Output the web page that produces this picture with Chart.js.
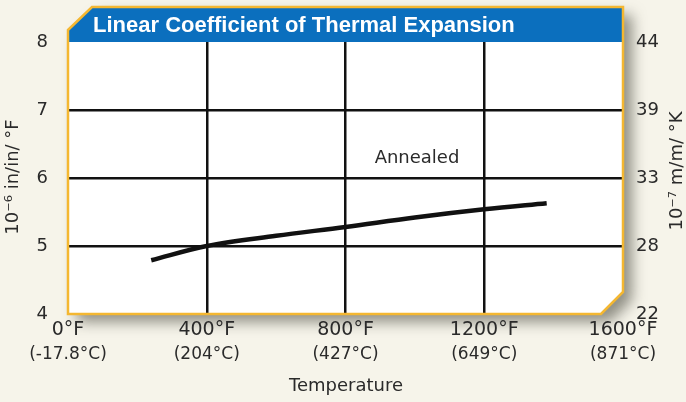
<!DOCTYPE html>
<html>
<head>
<meta charset="utf-8">
<script src="https://cdn.jsdelivr.net/npm/chart.js@4/dist/chart.umd.min.js"></script>
<style>
  html, body { margin: 0; padding: 0; background: #f6f4ea; }
  #wrap { width: 686px; height: 402px; }
</style>
</head>
<body>
<div id="wrap"><canvas id="chart" width="686" height="402"></canvas></div>
<script>
// values
const tempF = [240, 400, 600, 800, 1000, 1200, 1380];
const annealed = [4.79, 5.0, 5.15, 5.28, 5.42, 5.54, 5.63];
const fLabels = ['0°F', '400°F', '800°F', '1200°F', '1600°F'];
const cLabels = ['(-17.8°C)', '(204°C)', '(427°C)', '(649°C)', '(871°C)'];
const kLabels = ['22', '28', '33', '39', '44'];

const FONT = "'DejaVu Sans', Verdana, sans-serif";
const TITLE_FONT = "'Liberation Sans', Arial, sans-serif";
const TEXT = '#2a2a2a';

function boxPath(ctx, a, top) {
    ctx.beginPath();
    ctx.moveTo(a.left, top + 23);
    ctx.lineTo(a.left + 24, top);
    ctx.lineTo(a.right, top);
    ctx.lineTo(a.right, a.bottom - 22);
    ctx.lineTo(a.right - 22, a.bottom);
    ctx.lineTo(a.left, a.bottom);
    ctx.closePath();
}

const frame = {
    id: 'frame',
    beforeDraw(chart) {
        const { ctx, chartArea: a } = chart;
        ctx.save();
        ctx.fillStyle = '#f6f4ea';
        ctx.fillRect(0, 0, chart.width, chart.height);
        // drop shadow
        ctx.shadowColor = 'rgba(60,60,50,0.55)';
        ctx.shadowBlur = 14;
        ctx.shadowOffsetX = 9;
        ctx.shadowOffsetY = 8;
        boxPath(ctx, a, 7);
        ctx.fillStyle = '#ffffff';
        ctx.fill();
        ctx.shadowColor = 'transparent';
        // blue banner
        ctx.save();
        boxPath(ctx, a, 7);
        ctx.clip();
        ctx.fillStyle = '#0b6fbe';
        ctx.fillRect(a.left, 7, a.right - a.left, a.top - 7);
        ctx.restore();
        ctx.restore();
    },
    afterDraw(chart) {
        const { ctx, chartArea: a } = chart;
        ctx.save();
        boxPath(ctx, a, 7);
        ctx.strokeStyle = '#f4b731';
        ctx.lineWidth = 2.5;
        ctx.stroke();

        ctx.fillStyle = '#ffffff';
        ctx.font = 'bold 22px ' + TITLE_FONT;
        ctx.textAlign = 'left';
        ctx.textBaseline = 'middle';
        ctx.fillText('Linear Coefficient of Thermal Expansion', 93, 26);

        ctx.fillStyle = TEXT;
        ctx.font = '18px ' + FONT;
        ctx.textAlign = 'center';
        ctx.fillText('Annealed', 417, 158);
        ctx.fillText('Temperature', 346, 386);

        // both axis titles read bottom to top
        ctx.save();
        ctx.translate(13, 177);
        ctx.rotate(-Math.PI / 2);
        ctx.fillText('10\u207B\u2076 in/in/ °F', 0, 0);
        ctx.restore();

        ctx.save();
        ctx.translate(677, 171);
        ctx.rotate(-Math.PI / 2);
        ctx.fillText('10\u207B\u2077 m/m/ °K', 0, 0);
        ctx.restore();
        ctx.restore();
    }
};

const gridAt = (vals) => (c) => vals.includes(c.tick.value) ? '#111111' : 'rgba(0,0,0,0)';

new Chart(document.getElementById('chart'), {
    type: 'line',
    data: {
        datasets: [{
            label: 'Annealed',
            data: tempF.map((t, i) => ({ x: t, y: annealed[i] })),
            borderColor: '#111111',
            borderWidth: 4.5,
            borderCapStyle: 'butt',
            tension: 0.35,
            pointRadius: 0,
            fill: false,
        }]
    },
    options: {
        responsive: false,
        animation: false,
        layout: { padding: { top: 42, left: 0, right: 0, bottom: 0 } },
        plugins: { legend: { display: false }, tooltip: { enabled: false } },
        scales: {
            x: {
                type: 'linear', position: 'bottom', weight: 0,
                min: 0, max: 1600,
                afterBuildTicks: (s) => { s.ticks = fLabels.map((_, i) => ({ value: i * 400 })); },
                ticks: {
                    padding: 5, color: TEXT, maxRotation: 0,
                    font: { family: FONT, size: 19 },
                    callback: (v, i) => fLabels[i],
                },
                grid: { color: gridAt([400, 800, 1200]), lineWidth: 2.5, drawTicks: false },
                border: { display: false },
                afterFit: (s) => { s.height = 24; },
            },
            x2: {
                type: 'linear', position: 'bottom', weight: 1,
                min: 0, max: 1600,
                afterBuildTicks: (s) => { s.ticks = cLabels.map((_, i) => ({ value: i * 400 })); },
                ticks: {
                    padding: 6, color: TEXT, maxRotation: 0,
                    font: { family: FONT, size: 17 },
                    callback: (v, i) => cLabels[i],
                },
                grid: { display: false, drawTicks: false },
                border: { display: false },
                afterFit: (s) => { s.height = 64; },
            },
            y: {
                position: 'left', min: 4, max: 8,
                ticks: {
                    stepSize: 1, padding: 20, color: TEXT,
                    font: { family: FONT, size: 18 },
                },
                grid: { color: gridAt([5, 6, 7]), lineWidth: 2.5, drawTicks: false },
                border: { display: false },
                afterFit: (s) => { s.width = 68; },
            },
            y2: {
                position: 'right', min: 4, max: 8,
                ticks: {
                    stepSize: 1, padding: 13, color: TEXT,
                    font: { family: FONT, size: 18 },
                    callback: (v, i) => kLabels[i],
                },
                grid: { display: false, drawTicks: false },
                border: { display: false },
                afterFit: (s) => { s.width = 63; },
            },
        }
    },
    plugins: [frame]
});
</script>
</body>
</html>
